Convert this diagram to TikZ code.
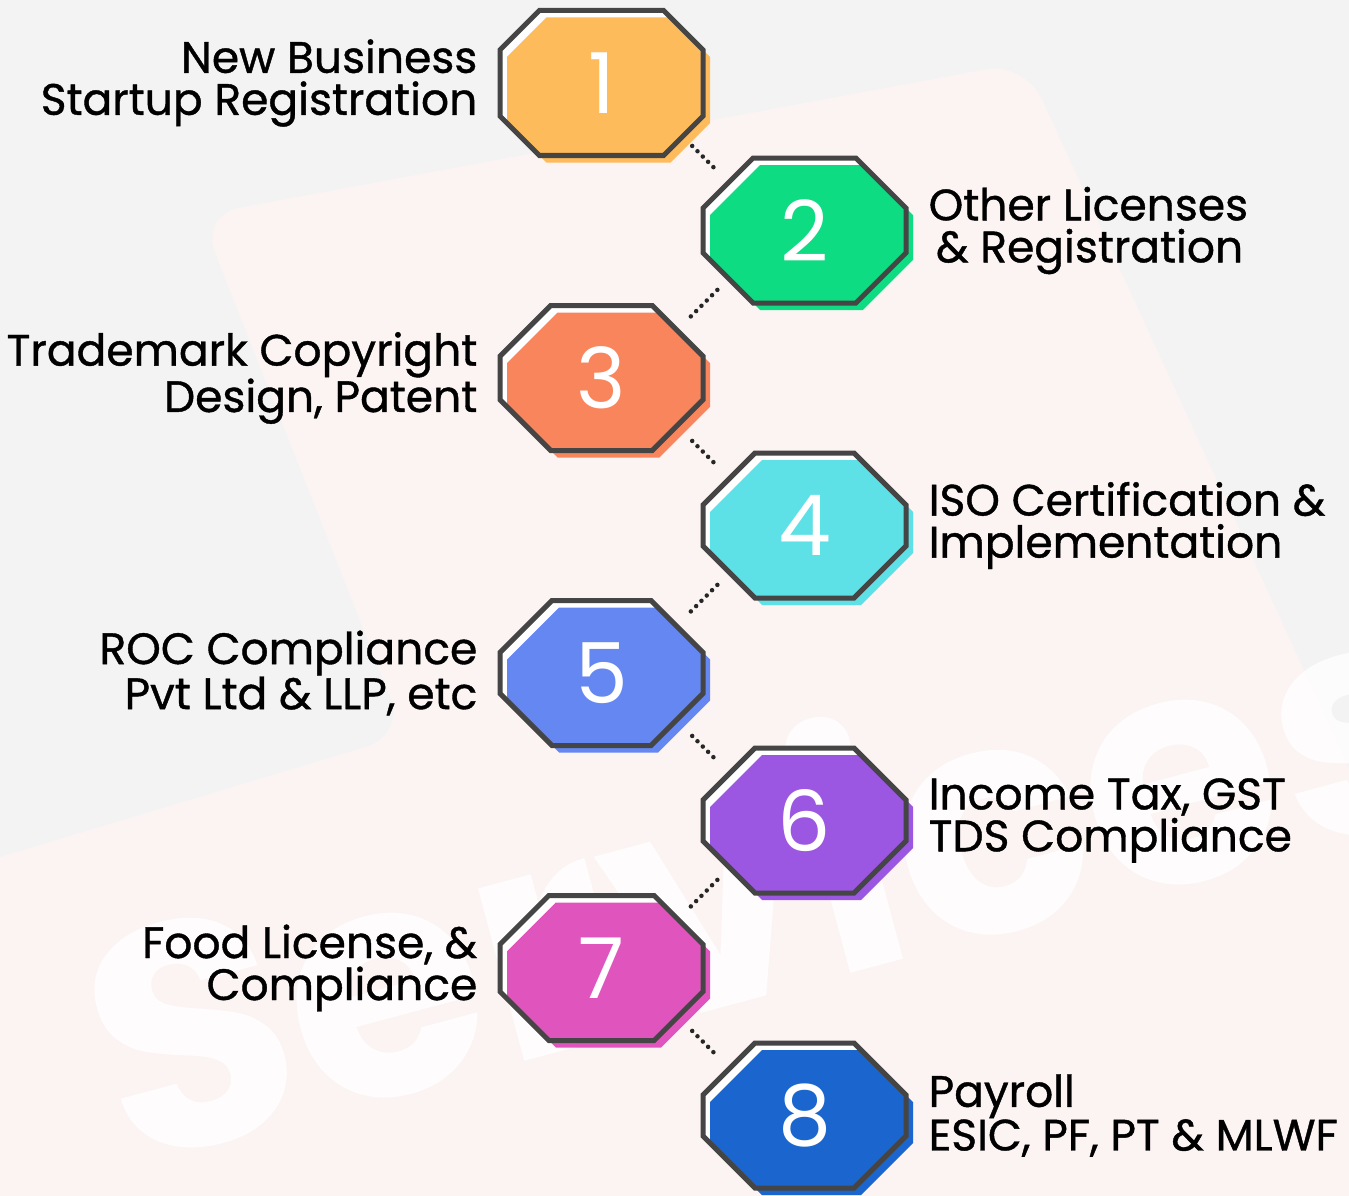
\documentclass[tikz,border=0pt]{standalone}
\usepackage{fontspec}
\setmainfont{Poppins}
\newfontfamily\labelfont{Poppins}[FakeBold=0.9]
\usepackage{tikz}
\usetikzlibrary{shapes.misc, positioning}
\definecolor{bggray}{HTML}{F3F3F3}
\definecolor{bgpink}{HTML}{FCF3F3}
\definecolor{octline}{HTML}{454545}
\definecolor{c1}{HTML}{FEBB5B}
\definecolor{c2}{HTML}{0EDC82}
\definecolor{c3}{HTML}{F9855C}
\definecolor{c4}{HTML}{5DE0E6}
\definecolor{c5}{HTML}{6587F2}
\definecolor{c6}{HTML}{9B57E1}
\definecolor{c7}{HTML}{E055BD}
\definecolor{c8}{HTML}{1A66CE}
\tikzstyle{octagon} = [chamfered rectangle, chamfered rectangle xsep=26pt, chamfered rectangle ysep=26pt, minimum width=203pt, minimum height=145pt, draw=octline, line width=5pt, inner sep=0pt, text=white, font=\fontsize{84}{84}\selectfont]
\tikzstyle{lefttext} = [align=right, inner sep=0pt, font=\labelfont\fontsize{44}{42}\selectfont]
\tikzstyle{righttext} = [align=left, inner sep=0pt, font=\labelfont\fontsize{44}{42}\selectfont]
\tikzstyle{dotline} = [line width=4.5pt, line cap=round, dash pattern=on 0pt off 7.5pt, color=black!85]
\tikzset{octfill/.style={preaction={fill=white}, preaction={fill=#1, transform canvas={shift={(7pt,-7pt)}}}}}

\begin{document}
\begin{tikzpicture}[x=1pt, y=1pt, node distance=147.5pt]
\useasboundingbox (0,0) rectangle (1349,-1196);
% background
\fill[bgpink] (0,0) rectangle (1349,-1196);
\fill[bggray, rounded corners=40pt] (-50,50) -- (1400,50) -- (1400,-879) -- (1025,-62) -- (200,-215) -- (405,-735) -- (-50,-872) -- cycle;
\node (wm) [anchor=base west, rotate=15, inner sep=0pt, text=white, opacity=0.8, font=\fontsize{320}{320}\selectfont\bfseries] at (125,-1168) {Services};
% steps
\node (o1) [octagon, octfill=c1] at (601.5,-83) {1};
\node (o2) [octagon, octfill=c2, below of=o1, xshift=203pt] {2};
\node (o3) [octagon, octfill=c3, below of=o2, xshift=-203pt] {3};
\node (o4) [octagon, octfill=c4, below of=o3, xshift=203pt] {4};
\node (o5) [octagon, octfill=c5, below of=o4, xshift=-203pt] {5};
\node (o6) [octagon, octfill=c6, below of=o5, xshift=203pt] {6};
\node (o7) [octagon, octfill=c7, below of=o6, xshift=-203pt] {7};
\node (o8) [octagon, octfill=c8, below of=o7, xshift=203pt] {8};
% labels
\node (t1) [lefttext, left=20pt of o1] {New Business\\Startup Registration};
\node (t2) [righttext, right=20pt of o2] {Other Licenses\\\,\& Registration};
\node (t3) [lefttext, left=20pt of o3] {Trademark Copyright\\Design, Patent};
\node (t4) [righttext, right=20pt of o4] {ISO Certification \&\\Implementation};
\node (t5) [lefttext, left=20pt of o5] {ROC Compliance\\Pvt Ltd \& LLP, etc};
\node (t6) [righttext, right=20pt of o6] {Income Tax, GST\\TDS Compliance};
\node (t7) [lefttext, left=20pt of o7] {Food License, \&\\Compliance};
\node (t8) [righttext, right=20pt of o8] {Payroll\\ESIC, PF, PT \& MLWF};
% dotted links
\draw [dotline, shorten <=89pt, shorten >=84pt] ([xshift=27.75pt]o1.center) -- ([xshift=-27.75pt]o2.center);
\draw [dotline, shorten <=84pt, shorten >=84pt] ([xshift=-27.75pt]o2.center) -- ([xshift=27.75pt]o3.center);
\draw [dotline, shorten <=89pt, shorten >=84pt] ([xshift=27.75pt]o3.center) -- ([xshift=-27.75pt]o4.center);
\draw [dotline, shorten <=84pt, shorten >=84pt] ([xshift=-27.75pt]o4.center) -- ([xshift=27.75pt]o5.center);
\draw [dotline, shorten <=89pt, shorten >=84pt] ([xshift=27.75pt]o5.center) -- ([xshift=-27.75pt]o6.center);
\draw [dotline, shorten <=84pt, shorten >=84pt] ([xshift=-27.75pt]o6.center) -- ([xshift=27.75pt]o7.center);
\draw [dotline, shorten <=89pt, shorten >=84pt] ([xshift=27.75pt]o7.center) -- ([xshift=-27.75pt]o8.center);
\end{tikzpicture}
\end{document}
